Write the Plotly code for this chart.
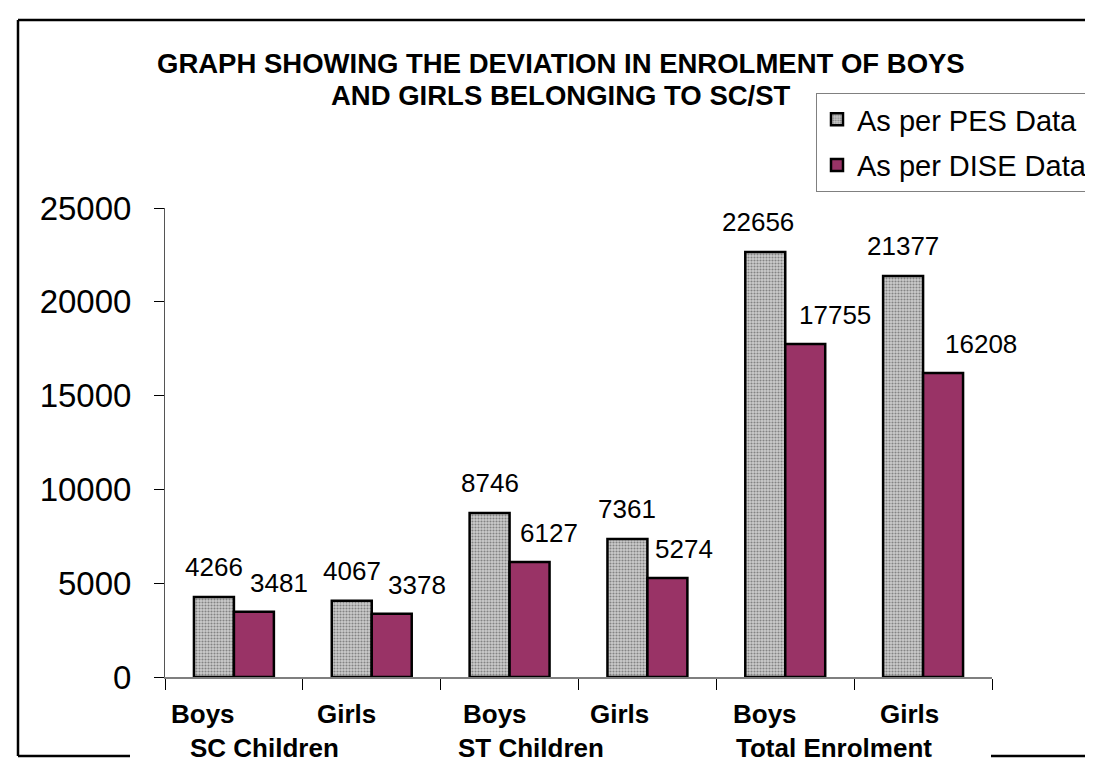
import plotly.graph_objects as go

# ---------------- data ----------------
groups = ["SC Children", "SC Children", "ST Children", "ST Children",
          "Total Enrolment", "Total Enrolment"]
genders = ["Boys", "Girls", "Boys", "Girls", "Boys", "Girls"]
pes_values = [4266, 4067, 8746, 7361, 22656, 21377]
dise_values = [3481, 3378, 6127, 5274, 17755, 16208]
series_names = ["As per PES Data", "As per DISE Data"]
y_ticks = [0, 5000, 10000, 15000, 20000, 25000]
y_tick_labels = ["0", "5000", "10000", "15000", "20000", "25000"]
title_lines = ["GRAPH SHOWING THE DEVIATION IN ENROLMENT OF BOYS",
               "AND GIRLS BELONGING TO SC/ST"]

categories = [f"{g} {s}" for g, s in zip(groups, genders)]

# ---------------- label offsets (pixels, styling) ----------------
dise_label_dx = [25, 25, 19, 17, 30, 38]
pes_label_dx = [0, 0, 0, 0, -7, 0]
sub_label_dx = [-31, -25, -15, -28, -20, -14]
group_label_dx = {"SC Children": 31, "ST Children": 21, "Total Enrolment": 49}

FONT = "Liberation Sans, Arial, sans-serif"
W, H = 1093, 767
L, R, T, B = 157, 109, 200, 98
PW, PH = W - L - R, H - T - B


def px_x(px):
    return (px - L) / PW


def px_y(py):
    return (H - B - py) / PH


fig = go.Figure()
fig.add_trace(go.Bar(
    x=categories, y=pes_values, name=series_names[0], legendgroup="pes",
    marker=dict(color="#a8a8a8",
                line=dict(color="black", width=2.5),
                pattern=dict(shape=".", fgcolor="#3a3a3a", bgcolor="#cccccc",
                             size=3, solidity=0.4)),
))
fig.add_trace(go.Bar(
    x=categories, y=dise_values, name=series_names[1], legendgroup="dise",
    marker=dict(color="#993366", line=dict(color="black", width=2.5)),
))

annotations = []
# data labels
for i, c in enumerate(categories):
    annotations.append(dict(x=c, y=pes_values[i], xref="x", yref="y",
                            text=str(pes_values[i]), showarrow=False,
                            xshift=-20 + pes_label_dx[i], yshift=30,
                            font=dict(family=FONT, size=26, color="black")))
    annotations.append(dict(x=c, y=dise_values[i], xref="x", yref="y",
                            text=str(dise_values[i]), showarrow=False,
                            xshift=20 + dise_label_dx[i], yshift=29,
                            font=dict(family=FONT, size=26, color="black")))
# category labels
seen = set()
for i, c in enumerate(categories):
    annotations.append(dict(x=c, y=0, xref="x", yref="paper",
                            text=f"<b>{genders[i]}</b>", showarrow=False,
                            xshift=sub_label_dx[i], yshift=-54,
                            font=dict(family=FONT, size=26, color="black")))
    if groups[i] not in seen:
        seen.add(groups[i])
        annotations.append(dict(x=c, y=0, xref="x", yref="paper",
                                text=f"<b>{groups[i]}</b>", showarrow=False,
                                xshift=group_label_dx[groups[i]], yshift=-88,
                                font=dict(family=FONT, size=26, color="black")))
# title
for k, line in enumerate(title_lines):
    annotations.append(dict(x=px_x(553), y=px_y(55 + 33 * k), xref="paper", yref="paper",
                            text=f"<b>{line}</b>", showarrow=False,
                            xanchor="center", yanchor="middle",
                            font=dict(family=FONT, size=27.5, color="black")))

# outer border
border = dict(color="black", width=2.5)
shapes = [
    dict(type="line", xref="paper", yref="paper", x0=px_x(10), x1=px_x(1100),
         y0=px_y(12), y1=px_y(12), line=border),
    dict(type="line", xref="paper", yref="paper", x0=px_x(10), x1=px_x(10),
         y0=px_y(12), y1=px_y(748), line=border),
    dict(type="line", xref="paper", yref="paper", x0=px_x(10), x1=px_x(122),
         y0=px_y(748), y1=px_y(748), line=border),
    dict(type="line", xref="paper", yref="paper", x0=px_x(983), x1=px_x(1100),
         y0=px_y(748), y1=px_y(748), line=border),
]

fig.update_layout(
    width=W, height=H,
    margin=dict(l=L, r=R, t=T, b=B, pad=0, autoexpand=False),
    paper_bgcolor="white", plot_bgcolor="white",
    barmode="group", bargap=0.42, bargroupgap=0,
    font=dict(family=FONT, color="black"),
    showlegend=True,
    legend=dict(x=px_x(808), y=px_y(85), xanchor="left", yanchor="top",
                bgcolor="white", bordercolor="#808080", borderwidth=1,
                font=dict(family=FONT, size=29, color="black"),
                itemwidth=30, traceorder="grouped", tracegroupgap=5),
    annotations=annotations,
    shapes=shapes,
)
fig.update_xaxes(type="category", range=[-0.5, 5.5], showticklabels=False,
                 tickson="boundaries", ticks="outside", ticklen=11, tickwidth=1,
                 tickcolor="black", showline=True, linecolor="#7f7f7f", linewidth=1.5,
                 showgrid=False, zeroline=False, fixedrange=True, automargin=False)
fig.update_yaxes(range=[0, 25000], tickvals=y_ticks, ticktext=y_tick_labels,
                 ticks="outside", ticklen=10,
                 tickcolor="black", tickwidth=1, showline=True, linecolor="#555555",
                 linewidth=1, showgrid=False, zeroline=False, ticklabelstandoff=16,
                 tickfont=dict(family=FONT, size=33, color="black"), fixedrange=True,
                 automargin=False)

fig.write_html("out.html")
